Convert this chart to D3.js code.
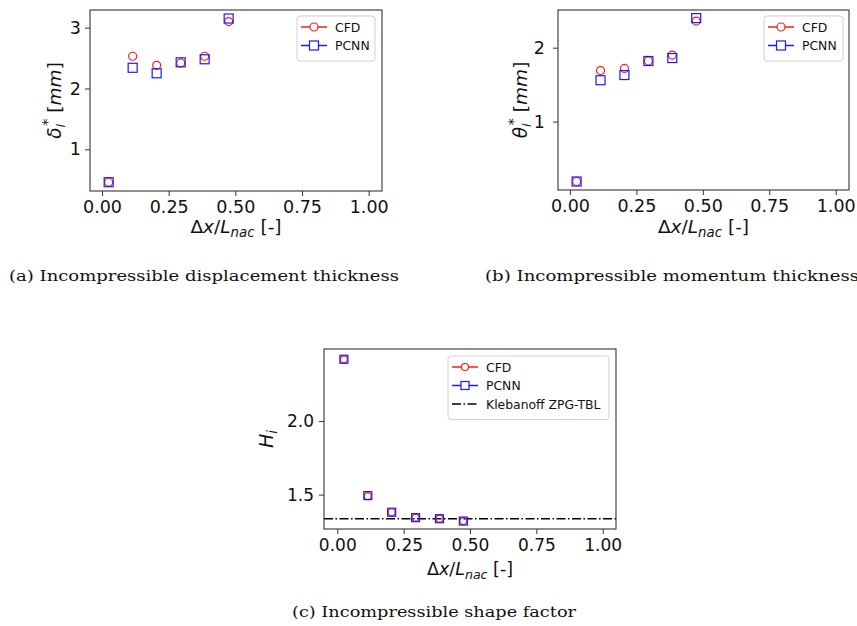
<!DOCTYPE html>
<html>
<head>
<meta charset="utf-8">
<script src="https://cdn.jsdelivr.net/npm/d3@7"></script>
<style>
  body { margin: 0; background: #fff; }
  svg { display: block; }
  text { font-family: "DejaVu Sans", sans-serif; }
</style>
</head>
<body>
<svg id="fig" width="857" height="626"></svg>
<script>
// streamwise stations
var stations = [0.025, 0.115, 0.205, 0.295, 0.385, 0.475]

// (a) displacement thickness [mm]
var dispCFD  = [0.46, 2.53, 2.38, 2.42, 2.53, 3.10]
var dispPCNN = [0.46, 2.34, 2.25, 2.43, 2.48, 3.15]

// (b) momentum thickness [mm]
var momCFD  = [0.19, 1.69, 1.72, 1.82, 1.90, 2.36]
var momPCNN = [0.19, 1.56, 1.63, 1.82, 1.86, 2.40]

// (c) shape factor
var shapeCFD  = [2.42, 1.49, 1.38, 1.343, 1.336, 1.32]
var shapePCNN = [2.42, 1.493, 1.38, 1.343, 1.336, 1.32]
var klebanoffH = 1.336

var xTicks = [0, 0.25, 0.5, 0.75, 1.0]
var seriesNames = ["CFD", "PCNN"]
var refName = "Klebanoff ZPG-TBL"
var captions = ["(a) Incompressible displacement thickness",
                "(b) Incompressible momentum thickness",
                "(c) Incompressible shape factor"]

var red = "#ff1a1a", blue = "#1a1aff", frame = "#333"

var svg = d3.select("#fig")

function panel(opt){
    var x = d3.scaleLinear().domain(opt.xdom).range([opt.l, opt.r])
    var y = d3.scaleLinear().domain(opt.ydom).range([opt.b, opt.t])
    var g = svg.append("g")

    // reference line (behind markers)
    if (opt.ref != null){
        g.append("line")
            .attr("x1", opt.l).attr("x2", opt.r)
            .attr("y1", y(opt.ref)).attr("y2", y(opt.ref))
            .attr("stroke", "black")
            .attr("stroke-width", 1.4)
            .attr("stroke-dasharray", "9,2.5,1.5,2.5")
    }

    // CFD circles
    g.append("g").selectAll("circle")
        .data(opt.cfd)
        .enter()
        .append("circle")
        .attr("cx", function(d, i){ return x(stations[i]) })
        .attr("cy", function(d){ return y(d) })
        .attr("r", opt.cr)
        .attr("fill", "none")
        .attr("stroke", red)
        .attr("stroke-width", 1.2)

    // PCNN squares
    g.append("g").selectAll("rect")
        .data(opt.pcnn)
        .enter()
        .append("rect")
        .attr("x", function(d, i){ return x(stations[i]) - opt.sq/2 })
        .attr("y", function(d){ return y(d) - opt.sq/2 })
        .attr("width", opt.sq)
        .attr("height", opt.sq)
        .attr("fill", "none")
        .attr("stroke", blue)
        .attr("stroke-width", 1.2)

    // axes
    var xa = g.append("g")
        .attr("transform", "translate(0," + opt.b + ")")
        .call(d3.axisBottom(x).tickValues(xTicks).tickFormat(d3.format(".2f")).tickSizeOuter(0).tickSize(5).tickPadding(5))
    var ya = g.append("g")
        .attr("transform", "translate(" + opt.l + ",0)")
        .call(d3.axisLeft(y).tickValues(opt.yTicks).tickFormat(d3.format(opt.yFmt)).tickSizeOuter(0).tickSize(5).tickPadding(opt.ypad))
    ;[xa, ya].forEach(function(a){
        a.select(".domain").remove()
        a.selectAll("line").attr("stroke", frame)
        a.selectAll("text")
            .attr("fill", "#111")
            .style("font-family", "DejaVu Sans")
            .style("font-size", opt.fs + "px")
    })

    // frame
    g.append("rect")
        .attr("x", opt.l).attr("y", opt.t)
        .attr("width", opt.r - opt.l).attr("height", opt.b - opt.t)
        .attr("fill", "none")
        .attr("stroke", frame)
        .attr("stroke-width", 1.1)

    // x label  Δx/L_nac [-]
    var xl = g.append("text")
        .attr("x", (opt.l + opt.r)/2)
        .attr("y", opt.xly)
        .attr("text-anchor", "middle")
        .style("font-size", opt.lfs + "px")
        .attr("fill", "#111")
    xl.append("tspan").text("Δ")
    xl.append("tspan").style("font-style", "italic").text("x")
    xl.append("tspan").text("/")
    xl.append("tspan").style("font-style", "italic").text("L")
    xl.append("tspan").style("font-style", "italic").style("font-size", "0.72em").attr("dy", 4).text("nac")
    xl.append("tspan").attr("dy", -4).text(" [-]")

    // y label
    var yl = g.append("text")
        .attr("transform", "translate(" + opt.ylx + "," + (opt.t + opt.b)/2 + ") rotate(-90)")
        .attr("text-anchor", "middle")
        .style("font-size", opt.yfs + "px")
        .attr("fill", "#111")
    yl.append("tspan").style("font-style", "italic").text(opt.sym)
    yl.append("tspan").style("font-style", "italic").style("font-size", "0.7em").attr("dy", 4).text("i")
    if (opt.unit){
        yl.append("tspan").style("font-size", "0.8em").attr("dx", -2).attr("dy", -13).text("*")
        yl.append("tspan").attr("dy", 9).text(" [")
        yl.append("tspan").style("font-style", "italic").text("mm")
        yl.append("tspan").text("]")
    }

    // legend
    var names = seriesNames.slice()
    if (opt.ref != null) names.push(refName)
    var lg = g.append("g")
    lg.append("rect")
        .attr("x", opt.lgx).attr("y", opt.lgy)
        .attr("width", opt.lgw).attr("height", 8 + names.length * 18.5)
        .attr("rx", 3)
        .attr("fill", "white")
        .attr("fill-opacity", 0.85)
        .attr("stroke", "#d0d0d0")
    names.forEach(function(n, i){
        var cy = opt.lgy + 11 + i * 18.5
        var x0 = opt.lgx + 4, x1 = opt.lgx + 30, xm = (x0 + x1)/2
        var col = i == 0 ? red : (i == 1 ? blue : "black")
        lg.append("line")
            .attr("x1", x0).attr("x2", x1)
            .attr("y1", cy).attr("y2", cy)
            .attr("stroke", col)
            .attr("stroke-width", 1.5)
            .attr("stroke-dasharray", i == 2 ? "9,2.5,1.5,2.5" : null)
        if (i == 0){
            lg.append("circle").attr("cx", xm).attr("cy", cy).attr("r", opt.cr)
                .attr("fill", "white").attr("stroke", red).attr("stroke-width", 1.2)
        } else if (i == 1){
            lg.append("rect").attr("x", xm - opt.sq/2).attr("y", cy - opt.sq/2)
                .attr("width", opt.sq).attr("height", opt.sq)
                .attr("fill", "white").attr("stroke", blue).attr("stroke-width", 1.2)
        }
        lg.append("text")
            .attr("x", opt.lgx + 38)
            .attr("y", cy + 4.5)
            .style("font-size", "12.4px")
            .attr("fill", "#111")
            .text(n)
    })
}

panel({l: 90, r: 382, t: 10, b: 191, xdom: [-0.045, 1.05], ydom: [0.315, 3.29],
       cfd: dispCFD, pcnn: dispPCNN, yTicks: [1, 2, 3], yFmt: "d", ypad: 4,
       cr: 4, sq: 9, fs: 17.5, lfs: 18.5, yfs: 18.5, xly: 233, ylx: 61, sym: "δ", unit: true,
       lgx: 297, lgy: 16, lgw: 78})

panel({l: 558, r: 849, t: 10, b: 190, xdom: [-0.045, 1.05], ydom: [0.075, 2.51],
       cfd: momCFD, pcnn: momPCNN, yTicks: [1, 2], yFmt: "d", ypad: 8,
       cr: 4, sq: 9, fs: 17.5, lfs: 18.5, yfs: 18.5, xly: 233, ylx: 527, sym: "θ", unit: true,
       lgx: 764, lgy: 16, lgw: 79})

panel({l: 324, r: 616, t: 349, b: 529, xdom: [-0.05, 1.05], ydom: [1.266, 2.49],
       cfd: shapeCFD, pcnn: shapePCNN, yTicks: [1.5, 2.0], yFmt: ".1f", ypad: 5,
       cr: 3.5, sq: 8, fs: 17, lfs: 17.5, yfs: 19, xly: 575, ylx: 273, sym: "H", unit: false,
       ref: klebanoffH, lgx: 448, lgy: 356, lgw: 161})

// captions
var capPos = [[9, 281, 390], [485, 281, 374], [292, 617, 284]]
svg.selectAll(".cap")
    .data(captions)
    .enter()
    .append("text")
    .attr("class", "cap")
    .attr("x", function(d, i){ return capPos[i][0] })
    .attr("y", function(d, i){ return capPos[i][1] })
    .attr("textLength", function(d, i){ return capPos[i][2] })
    .attr("lengthAdjust", "spacingAndGlyphs")
    .style("font-family", "'DejaVu Serif', serif")
    .style("font-size", "15.5px")
    .attr("fill", "#111")
    .text(function(d){ return d })
</script>
</body>
</html>
